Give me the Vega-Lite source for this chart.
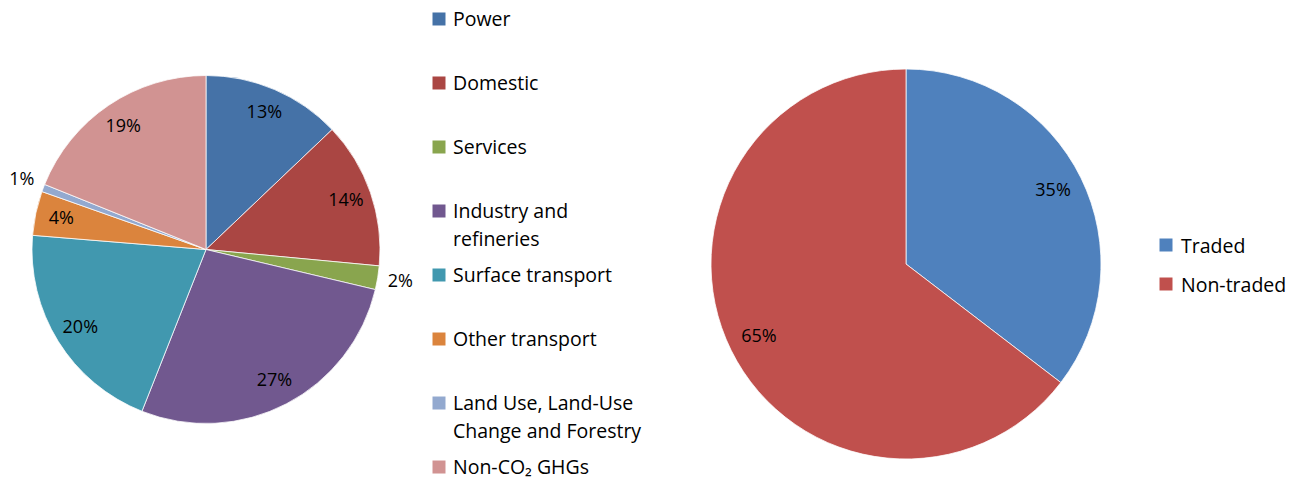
{
  "$schema": "https://vega.github.io/schema/vega-lite/v6.json",
  "padding": 0,
  "bounds": "flush",
  "spacing": 28,
  "background": "#ffffff",
  "resolve": {"scale": {"color": "independent", "x": "independent", "y": "independent", "theta": "independent"}},
  "config": {"view": {"stroke": null}, "font": "Open Sans"},
  "datasets": {
    "sectors": [
      {"rank": 1, "sector": "Power", "label": "Power", "share": 0.129},
      {"rank": 2, "sector": "Domestic", "label": "Domestic", "share": 0.136},
      {"rank": 3, "sector": "Services", "label": "Services", "share": 0.022},
      {"rank": 4, "sector": "Industry and refineries", "label": "Industry and\nrefineries", "share": 0.273},
      {"rank": 5, "sector": "Surface transport", "label": "Surface transport", "share": 0.203},
      {"rank": 6, "sector": "Other transport", "label": "Other transport", "share": 0.041},
      {"rank": 7, "sector": "Land Use, Land-Use Change and Forestry", "label": "Land Use, Land-Use\nChange and Forestry", "share": 0.007},
      {"rank": 8, "sector": "Non-CO2 GHGs", "label": "\u2002Non-CO\u2082 GHGs", "share": 0.189}
    ],
    "trading": [
      {"rank": 1, "group": "Traded", "share": 0.354},
      {"rank": 2, "group": "Non-traded", "share": 0.646}
    ]
  },
  "hconcat": [
    {
      "width": 410,
      "height": 479,
      "data": {"name": "sectors"},
      "encoding": {
        "theta": {"field": "share", "type": "quantitative", "stack": true},
        "order": {"field": "rank", "type": "quantitative"}
      },
      "layer": [
        {
          "mark": {"type": "arc", "outerRadius": 174, "stroke": "#ffffff", "strokeWidth": 0.75, "yOffset": 10},
          "encoding": {
            "color": {
              "field": "sector", "type": "nominal", "sort": null, "legend": null,
              "scale": {
                "domain": ["Power", "Domestic", "Services", "Industry and refineries", "Surface transport", "Other transport", "Land Use, Land-Use Change and Forestry", "Non-CO2 GHGs"],
                "range": ["#4572A7", "#AA4643", "#89A54E", "#71588F", "#4198AF", "#DB843D", "#93A9CF", "#D19392"]
              }
            }
          }
        },
        {
          "mark": {"type": "text", "radius": 148, "fontSize": 18, "yOffset": 10},
          "encoding": {
            "text": {"field": "share", "type": "quantitative", "format": ".0%"},
            "color": {"value": "#000000"},
            "opacity": {"condition": {"test": "datum.share < 0.03", "value": 0}, "value": 1}
          }
        },
        {
          "mark": {"type": "text", "radius": 197, "fontSize": 18, "yOffset": 10},
          "encoding": {
            "text": {"field": "share", "type": "quantitative", "format": ".0%"},
            "color": {"value": "#000000"},
            "opacity": {"condition": {"test": "datum.share < 0.03", "value": 1}, "value": 0}
          }
        }
      ]
    },
    {
      "width": 207,
      "height": 479,
      "data": {"name": "sectors"},
      "encoding": {
        "y": {"field": "sector", "type": "nominal", "sort": null, "scale": {"type": "point", "padding": 0.242}, "axis": null},
        "x": {"datum": 0, "type": "quantitative", "scale": {"domain": [0, 1], "nice": false}, "axis": null}
      },
      "layer": [
        {
          "mark": {"type": "point", "shape": "square", "size": 169, "filled": true, "opacity": 1, "yOffset": 3.5},
          "encoding": {
            "color": {
              "field": "sector", "type": "nominal", "sort": null, "legend": null,
              "scale": {
                "domain": ["Power", "Domestic", "Services", "Industry and refineries", "Surface transport", "Other transport", "Land Use, Land-Use Change and Forestry", "Non-CO2 GHGs"],
                "range": ["#4572A7", "#AA4643", "#89A54E", "#71588F", "#4198AF", "#DB843D", "#93A9CF", "#D19392"]
              }
            }
          }
        },
        {
          "mark": {"type": "text", "align": "left", "baseline": "alphabetic", "dx": 14, "dy": 7, "fontSize": 19.5, "lineBreak": "\n", "lineHeight": 28, "color": "#000000", "yOffset": 3.5},
          "encoding": {"text": {"field": "label"}}
        }
      ]
    },
    {
      "width": 464,
      "height": 479,
      "data": {"name": "trading"},
      "encoding": {
        "theta": {"field": "share", "type": "quantitative", "stack": true},
        "order": {"field": "rank", "type": "quantitative"}
      },
      "layer": [
        {
          "mark": {"type": "arc", "outerRadius": 195, "stroke": "#ffffff", "strokeWidth": 0.75, "yOffset": 24.5},
          "encoding": {
            "color": {
              "field": "group", "type": "nominal", "sort": null, "legend": null,
              "scale": {"domain": ["Traded", "Non-traded"], "range": ["#4F81BD", "#C0504D"]}
            }
          }
        },
        {
          "mark": {"type": "text", "radius": 164, "fontSize": 18, "yOffset": 24.5},
          "encoding": {
            "text": {"field": "share", "type": "quantitative", "format": ".0%"},
            "color": {"value": "#000000"}
          }
        }
      ]
    },
    {
      "width": 100,
      "height": 479,
      "data": {"name": "trading"},
      "encoding": {
        "y": {"field": "group", "type": "nominal", "sort": null, "scale": {"type": "point", "range": [245, 284], "padding": 0}, "axis": null},
        "x": {"datum": 0, "type": "quantitative", "scale": {"domain": [0, 1], "nice": false}, "axis": null}
      },
      "layer": [
        {
          "mark": {"type": "point", "shape": "square", "size": 169, "filled": true, "opacity": 1},
          "encoding": {
            "color": {
              "field": "group", "type": "nominal", "sort": null, "legend": null,
              "scale": {"domain": ["Traded", "Non-traded"], "range": ["#4F81BD", "#C0504D"]}
            }
          }
        },
        {
          "mark": {"type": "text", "align": "left", "baseline": "alphabetic", "dx": 15, "dy": 7.5, "fontSize": 19.5, "color": "#000000"},
          "encoding": {"text": {"field": "group"}}
        }
      ]
    }
  ]
}
